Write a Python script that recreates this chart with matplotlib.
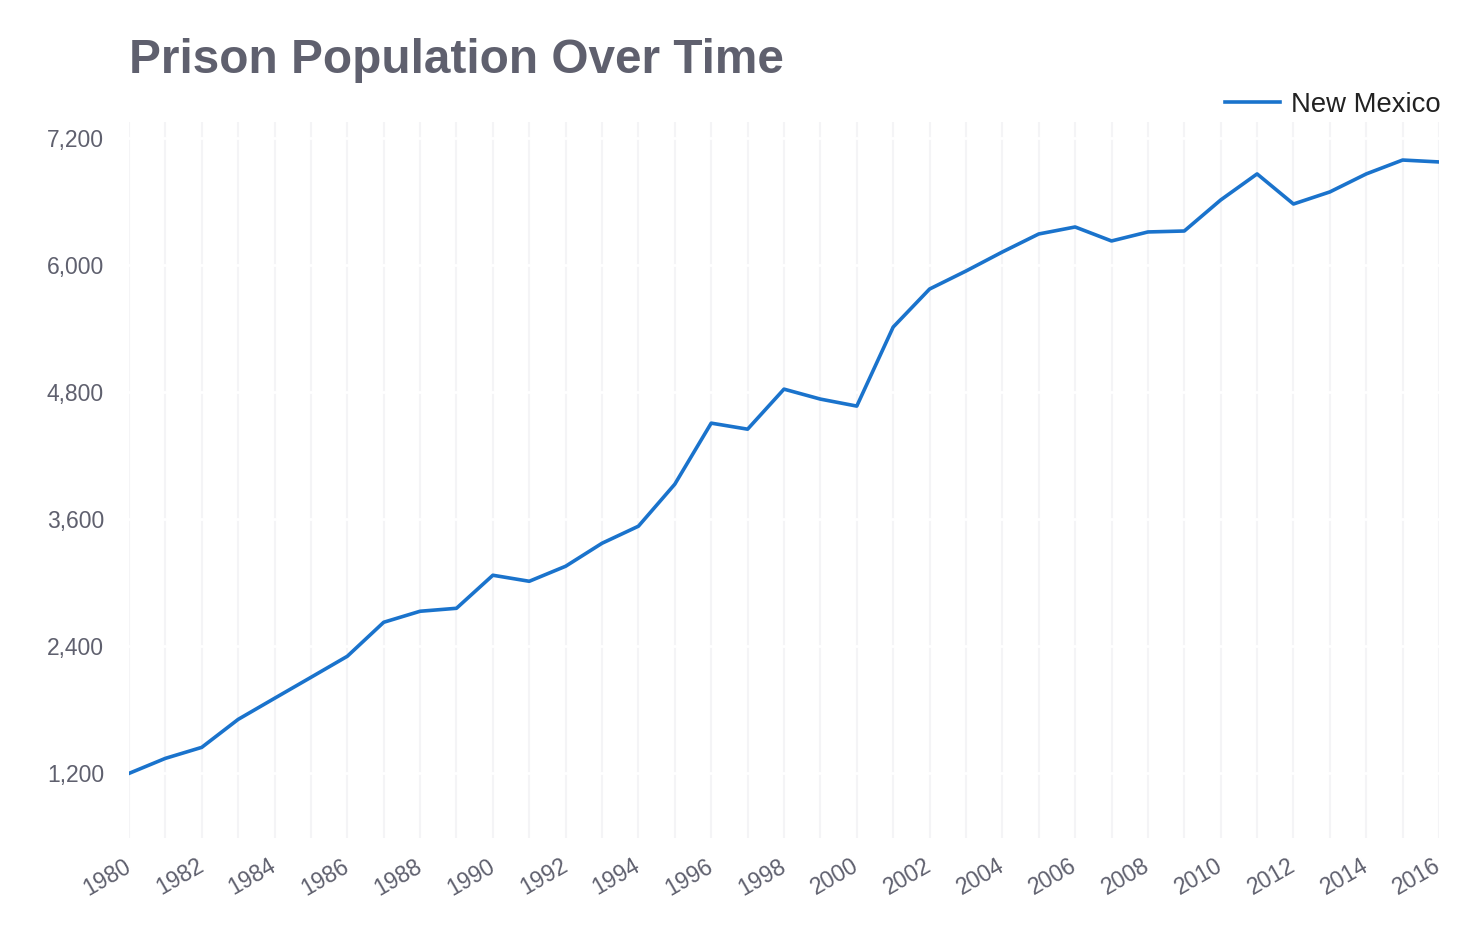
import numpy as np
import matplotlib.pyplot as plt
from matplotlib.ticker import FuncFormatter

plt.rcParams['font.family'] = ['Liberation Sans', 'DejaVu Sans']

years = list(range(1980, 2017))
population = [1200, 1342, 1446, 1710, 1909, 2107, 2306, 2627, 2731, 2759,
              3071, 3014, 3156, 3373, 3534, 3931, 4507, 4450, 4828, 4734,
              4668, 5414, 5773, 5943, 6123, 6293, 6359, 6227, 6312, 6321,
              6614, 6860, 6576, 6690, 6860, 6991, 6973]
y_ticks = [1200, 2400, 3600, 4800, 6000, 7200]
x_ticks = list(range(1980, 2017, 2))

text_gray = '#5f606e'
grid_gray = '#f4f4f6'
line_blue = '#1a73cc'

fig = plt.figure(figsize=(14.84, 9.3), dpi=100)
ax = fig.add_axes([0.0869, 0.0989, 0.8828, 0.7699])

# vertical grid every year, horizontal white breaks at ticks
for yr in years:
    ax.axvline(yr, color=grid_gray, lw=1.5, zorder=0)
for yt in y_ticks:
    ax.axhline(yt, color='white', lw=2.0, zorder=0.5)

ax.plot(years, population, color=line_blue, lw=2.6, zorder=3,
        solid_joinstyle='round', label='New Mexico')

ax.set_xlim(1980, 2016)
ax.set_ylim(590, 7350)
ax.set_yticks(y_ticks)
ax.set_xticks(x_ticks)
ax.yaxis.set_major_formatter(FuncFormatter(lambda v, p: f'{int(v):,}'))
ax.tick_params(axis='both', length=0, labelcolor=text_gray, labelsize=16.5)
ax.tick_params(axis='y', pad=18)
ax.tick_params(axis='x', pad=19)
for lbl in ax.get_xticklabels():
    lbl.set_rotation(30)
    lbl.set_ha('right')
    lbl.set_va('center')
    lbl.set_rotation_mode('anchor')

for s in ax.spines.values():
    s.set_visible(False)

fig.text(0.0869, 0.922, 'Prison Population Over Time', fontsize=34.4,
         fontweight='bold', color=text_gray, ha='left', va='baseline')

leg = ax.legend(loc='lower right', bbox_to_anchor=(1.004, 1.0), frameon=False,
                fontsize=19.8, handlelength=2.0, handletextpad=0.4,
                borderaxespad=0.0, borderpad=0.15)
for t in leg.get_texts():
    t.set_color('#222222')

fig.savefig('out.png', dpi=100)
